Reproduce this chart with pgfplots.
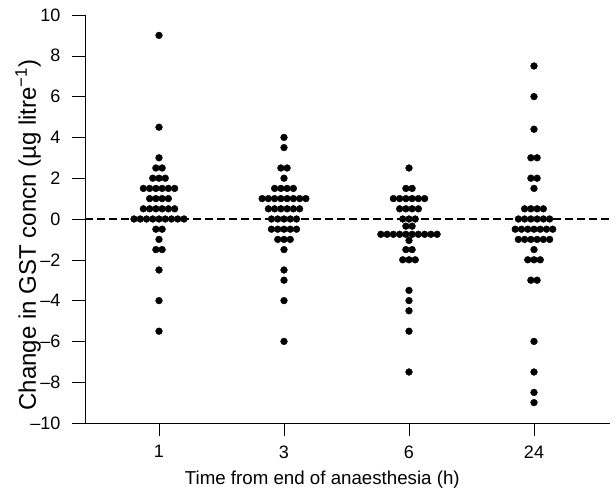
\documentclass[border=0pt]{standalone}
\usepackage{pgfplots}
\pgfplotsset{compat=1.18}
\usepackage{fontspec}
\setmainfont{Liberation Sans}

\begin{document}
\begin{tikzpicture}
\useasboundingbox (-85pt,-73pt) rectangle (531pt,423pt);
\begin{axis}[
  at={(0,0)}, anchor=south west,
  scale only axis, width=525pt, height=408pt,
  xmin=-0.592, xmax=3.608, ymin=-10, ymax=10,
  axis lines=left, axis line style={-, line width=0.9pt},
  tick align=outside, major tick length=13pt,
  tick style={black, line width=0.6pt},
  xtick={0,1,2,3}, xticklabels={1,3,6,24},
  ytick={-10,-8,...,10},
  yticklabels={–10,–8,–6,–4,–2,0,2,4,6,8,10},
  ticklabel style={font=\fontsize{18}{21}\selectfont},
  x tick label style={yshift=-6pt},
  y tick label style={xshift=-8pt},
  xlabel={Time from end of anaesthesia (h)},
  ylabel={Change in GST concn (µg litre\textsuperscript{−1})},
  x label style={font=\fontsize{18.7}{22}\selectfont,
    at={(axis description cs:0.452,-0.14)}, anchor=center},
  y label style={font=\fontsize{24}{28}\selectfont,
    at={(axis description cs:-0.1086,0.461)}, anchor=center},
  clip=false,
]
% reference line at zero
\addplot[black, line width=1.1pt, dash pattern=on 8pt off 4pt, forget plot]
  coordinates {(-0.592,0) (3.608,0)};

% 1 h
\addplot[only marks, mark=*, mark size=3.4pt, black] coordinates {
(0,9) (0,4.5) (0,3)
(-0.025,2.5)(0.025,2.5)
(-0.05,2)(0,2)(0.05,2)
(-0.125,1.5)(-0.075,1.5)(-0.025,1.5)(0.025,1.5)(0.075,1.5)(0.125,1.5)
(-0.075,1)(-0.025,1)(0.025,1)(0.075,1)
(-0.125,0.5)(-0.075,0.5)(-0.025,0.5)(0.025,0.5)(0.075,0.5)(0.125,0.5)
(-0.2,0)(-0.15,0)(-0.1,0)(-0.05,0)(0,0)(0.05,0)(0.1,0)(0.15,0)(0.2,0)
(-0.025,-0.5)(0.025,-0.5)
(0,-1)
(-0.025,-1.5)(0.025,-1.5)
(0,-2.5) (0,-4) (0,-5.5)
};

% 3 h
\addplot[only marks, mark=*, mark size=3.4pt, black] coordinates {
(1,4) (1,3.5)
(0.975,2.5)(1.025,2.5)
(1,2)
(0.925,1.5)(0.975,1.5)(1.025,1.5)(1.075,1.5)
(0.825,1)(0.875,1)(0.925,1)(0.975,1)(1.025,1)(1.075,1)(1.125,1)(1.175,1)
(0.875,0.5)(0.925,0.5)(0.975,0.5)(1.025,0.5)(1.075,0.5)(1.125,0.5)
(0.9,0)(0.95,0)(1,0)(1.05,0)(1.1,0)
(0.9,-0.5)(0.95,-0.5)(1,-0.5)(1.05,-0.5)(1.1,-0.5)
(0.95,-1)(1,-1)(1.05,-1)
(1,-1.5) (1,-2.5) (1,-3) (1,-4) (1,-6)
};

% 6 h
\addplot[only marks, mark=*, mark size=3.4pt, black] coordinates {
(2,2.5)
(1.975,1.5)(2.025,1.5)
(1.875,1)(1.925,1)(1.975,1)(2.025,1)(2.075,1)(2.125,1)
(1.925,0.5)(1.975,0.5)(2.025,0.5)(2.075,0.5)
(1.95,0)(2,0)(2.05,0)
(1.975,-0.35)(2.025,-0.35)
(1.775,-0.75)(1.825,-0.75)(1.875,-0.75)(1.925,-0.75)(1.975,-0.75)
(2.025,-0.75)(2.075,-0.75)(2.125,-0.75)(2.175,-0.75)(2.225,-0.75)
(2,-1.05)
(1.975,-1.5)(2.025,-1.5)
(1.95,-2)(2,-2)(2.05,-2)
(2,-3.5) (2,-4) (2,-4.5) (2,-5.5) (2,-7.5)
};

% 24 h
\addplot[only marks, mark=*, mark size=3.4pt, black] coordinates {
(3,7.5) (3,6) (3,4.4)
(2.975,3)(3.025,3)
(2.975,2)(3.025,2)
(3,1.5)
(2.925,0.5)(2.975,0.5)(3.025,0.5)(3.075,0.5)
(2.875,0)(2.925,0)(2.975,0)(3.025,0)(3.075,0)(3.125,0)
(2.85,-0.5)(2.9,-0.5)(2.95,-0.5)(3,-0.5)(3.05,-0.5)(3.1,-0.5)(3.15,-0.5)
(2.875,-1)(2.925,-1)(2.975,-1)(3.025,-1)(3.075,-1)(3.125,-1)
(3,-1.5)
(2.95,-2)(3,-2)(3.05,-2)
(2.975,-3)(3.025,-3)
(3,-6) (3,-7.5) (3,-8.5) (3,-9)
};
\end{axis}
\end{tikzpicture}
\end{document}
